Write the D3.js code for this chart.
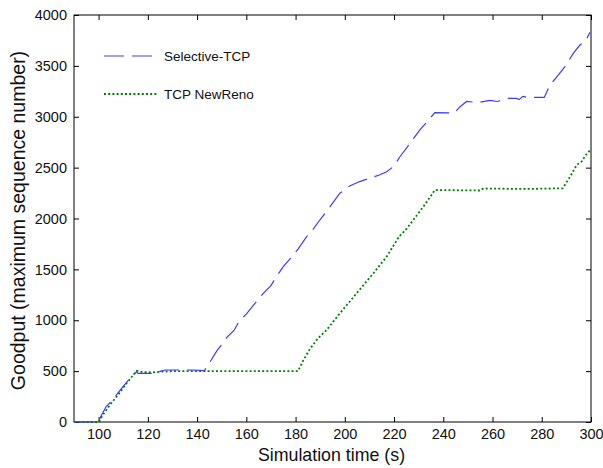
<!DOCTYPE html>
<html>
<head>
<meta charset="utf-8">
<script src="https://cdn.jsdelivr.net/npm/d3@7"></script>
<style>
  body { margin: 0; background: #fff; }
  text { font-family: 'Liberation Sans', Arial, sans-serif; fill: #111; }
</style>
</head>
<body>
<div id="chart"></div>
<script>
// Selective-TCP (blue, dashed)
const blueTime = [90, 100, 101, 103, 105, 107, 109, 111, 113, 115.5, 116, 123, 124, 127, 138, 143,
  145, 148.2, 150, 152, 155, 157.4, 160, 163, 166.9, 170, 172, 175, 178, 181, 184.5, 187, 190,
  194, 198, 202, 206, 210, 214, 217, 219.7, 222.4, 226.5, 230.5, 234.6, 236.6, 244.5, 246.8,
  249.5, 254, 259, 262, 265.5, 269.8, 270.8, 272.3, 274, 281, 283.3, 285.4, 289.4, 292.8,
  295.5, 297.6, 299.6];
const blueGoodput = [0, 0, 60, 150, 200, 260, 320, 380, 440, 494, 478, 478, 490, 511, 511, 505,
  580, 707, 760, 830, 900, 1002, 1060, 1150, 1265, 1340, 1420, 1527, 1610, 1700, 1821, 1890, 1990,
  2116, 2248, 2320, 2363, 2395, 2427, 2460, 2509, 2607, 2739, 2870, 2985, 3040, 3037, 3099,
  3150, 3140, 3160, 3150, 3180, 3180, 3168, 3200, 3190, 3190, 3312, 3371, 3492, 3622,
  3705, 3738, 3830];

// TCP NewReno (green, dotted)
const greenTime = [90, 100, 102, 105, 108, 111, 115.5, 118, 122, 126, 130, 181, 183, 185.9, 189,
  192.6, 198, 204.8, 211.6, 217, 222, 225.1, 227.8, 231.9, 236.6, 255, 256.3, 273.9, 288.5,
  291.5, 294.2, 296.2, 297.9, 299.6];
const greenGoodput = [0, 0, 80, 180, 270, 370, 504, 490, 488, 495, 500, 500, 600, 720, 820,
  904, 1068, 1265, 1461, 1625, 1821, 1900, 1985, 2116, 2280, 2275, 2295, 2290, 2297,
  2411, 2526, 2560, 2624, 2670];

const xTicks = [100, 120, 140, 160, 180, 200, 220, 240, 260, 280, 300];
const yTicks = [0, 500, 1000, 1500, 2000, 2500, 3000, 3500, 4000];
const seriesNames = ['Selective-TCP', 'TCP NewReno'];

const width = 603, height = 468;
const margin = { top: 15, right: 12, bottom: 46, left: 74 };

const svg = d3.select('#chart').append('svg')
  .attr('width', width)
  .attr('height', height);

const x = d3.scaleLinear().domain([90, 300]).range([margin.left, width - margin.right]);
const y = d3.scaleLinear().domain([0, 4000]).range([height - margin.bottom, margin.top]);

const tickLen = 5;

// box
svg.append('rect')
  .attr('x', x(90)).attr('y', y(4000))
  .attr('width', x(300) - x(90)).attr('height', y(0) - y(4000))
  .attr('fill', 'none').attr('stroke', '#000').attr('stroke-width', 1);

// axes (ticks inside, mirrored top/right)
const axisStyle = g => {
  g.select('.domain').remove();
  g.selectAll('line').attr('stroke', '#000');
  g.selectAll('text').attr('font-size', 14.5).attr('fill', '#111')
    .attr('font-family', "'Liberation Sans', Arial, sans-serif");
};

svg.append('g')
  .attr('transform', `translate(0,${y(0)})`)
  .call(d3.axisBottom(x).tickValues(xTicks).tickSizeInner(-tickLen).tickSizeOuter(0).tickPadding(7))
  .call(axisStyle);

svg.append('g')
  .attr('transform', `translate(0,${y(4000)})`)
  .call(d3.axisTop(x).tickValues(xTicks).tickSizeInner(-tickLen).tickSizeOuter(0).tickFormat(''))
  .call(axisStyle);

svg.append('g')
  .attr('transform', `translate(${x(90)},0)`)
  .call(d3.axisLeft(y).tickValues(yTicks).tickFormat(d3.format('d'))
    .tickSizeInner(-tickLen).tickSizeOuter(0).tickPadding(7))
  .call(axisStyle);

svg.append('g')
  .attr('transform', `translate(${x(300)},0)`)
  .call(d3.axisRight(y).tickValues(yTicks).tickSizeInner(-tickLen).tickSizeOuter(0).tickFormat(''))
  .call(axisStyle);

const line = d3.line().x(d => x(d[0])).y(d => y(d[1]));

const blueData = d3.zip(blueTime, blueGoodput);
const greenData = d3.zip(greenTime, greenGoodput);

const blueStyle = { stroke: '#3c3cff', width: 1.2, dash: '20,8' };
const greenStyle = { stroke: '#008000', width: 1.8, dash: '2,2.2' };

svg.append('path')
  .datum(greenData)
  .attr('d', line)
  .attr('fill', 'none')
  .attr('stroke', greenStyle.stroke)
  .attr('stroke-width', greenStyle.width)
  .attr('stroke-dasharray', greenStyle.dash);

svg.append('path')
  .datum(blueData)
  .attr('d', line)
  .attr('fill', 'none')
  .attr('stroke', blueStyle.stroke)
  .attr('stroke-width', blueStyle.width)
  .attr('stroke-dasharray', blueStyle.dash);

// legend
const legend = svg.append('g');
const legendRows = [
  { name: seriesNames[0], style: blueStyle, y: 56 },
  { name: seriesNames[1], style: greenStyle, y: 94 },
];
legendRows.forEach(r => {
  legend.append('line')
    .attr('x1', 104).attr('x2', 158)
    .attr('y1', r.y).attr('y2', r.y)
    .attr('stroke', r.style.stroke)
    .attr('stroke-width', r.style.width)
    .attr('stroke-dasharray', r.style.dash);
  legend.append('text')
    .attr('x', 164).attr('y', r.y)
    .attr('dy', '0.35em')
    .attr('font-size', 13.5)
    .text(r.name);
});

// axis titles
svg.append('text')
  .attr('x', (x(90) + x(300)) / 2 - 1)
  .attr('y', 461)
  .attr('text-anchor', 'middle')
  .attr('font-size', 17.8)
  .text('Simulation time (s)');

svg.append('text')
  .attr('transform', `translate(25,${(y(0) + y(4000)) / 2 + 2}) rotate(-90)`)
  .attr('text-anchor', 'middle')
  .attr('font-size', 19.5)
  .text('Goodput (maximum sequence number)');
</script>
</body>
</html>
